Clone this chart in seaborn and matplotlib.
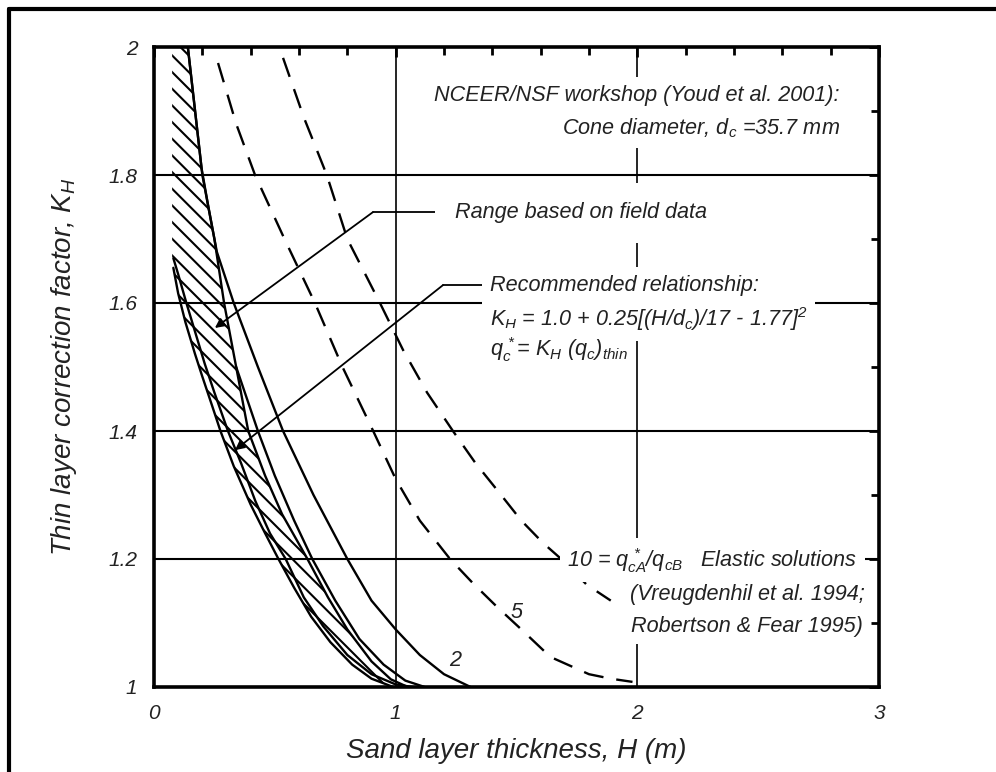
import numpy as np
import pandas as pd
import matplotlib
matplotlib.use("Agg")
import matplotlib.pyplot as plt
import seaborn as sns
from matplotlib.ticker import FixedLocator, MultipleLocator, FixedFormatter
from matplotlib.lines import Line2D

# ---------------- data ----------------
# hatched "range based on field data": left edge (open, no line above 1.66)
hatch_open_H = [0.075, 0.075]
hatch_open_K = [2.00, 1.66]
# left solid edge of the field-data band
band_left_H = [0.08, 0.10, 0.13, 0.17, 0.20, 0.24, 0.275, 0.33, 0.40, 0.46, 0.515, 0.58, 0.65, 0.73, 0.82, 0.90, 0.99]
band_left_K = [1.655, 1.615, 1.57, 1.52, 1.485, 1.44, 1.40, 1.345, 1.285, 1.24, 1.20, 1.155, 1.11, 1.07, 1.035, 1.013, 1.0]
# right solid edge of the field-data band
band_right_H = [0.14, 0.17, 0.197, 0.225, 0.25, 0.29, 0.34, 0.39, 0.46, 0.53, 0.635, 0.72, 0.80, 0.90, 0.98, 1.05]
band_right_K = [2.00, 1.90, 1.81, 1.75, 1.70, 1.60, 1.50, 1.40, 1.33, 1.27, 1.20, 1.14, 1.09, 1.04, 1.012, 1.0]
# second right edge
band_right2_H = [0.34, 0.43, 0.50, 0.58, 0.655, 0.75, 0.85, 0.95, 1.04, 1.12]
band_right2_K = [1.50, 1.40, 1.33, 1.26, 1.20, 1.135, 1.075, 1.035, 1.01, 1.0]
# recommended relationship
rec_H = [0.08, 0.10, 0.134, 0.17, 0.21, 0.25, 0.306, 0.36, 0.42, 0.48, 0.545, 0.62, 0.70, 0.80, 0.90, 1.00, 1.07]
rec_K = [1.67, 1.645, 1.60, 1.555, 1.505, 1.46, 1.40, 1.35, 1.29, 1.24, 1.20, 1.14, 1.095, 1.05, 1.02, 1.004, 1.0]
# elastic solutions q_cA*/q_cB = 2, 5, 10
el2_H = [0.14, 0.17, 0.20, 0.26, 0.33, 0.43, 0.534, 0.66, 0.80, 0.90, 1.00, 1.10, 1.20, 1.31]
el2_K = [2.00, 1.90, 1.80, 1.68, 1.60, 1.50, 1.40, 1.30, 1.20, 1.135, 1.09, 1.05, 1.02, 1.0]
el5_H = [0.265, 0.34, 0.418, 0.54, 0.666, 0.78, 0.907, 1.00, 1.10, 1.225, 1.32, 1.42, 1.52, 1.64, 1.80, 1.89, 1.98]
el5_K = [1.975, 1.88, 1.80, 1.70, 1.60, 1.50, 1.40, 1.325, 1.26, 1.20, 1.162, 1.125, 1.09, 1.047, 1.02, 1.013, 1.008]
el10_H = [0.534, 0.62, 0.715, 0.80, 0.935, 1.03, 1.13, 1.237, 1.33, 1.43, 1.52, 1.61, 1.70, 1.79, 1.89]
el10_K = [1.983, 1.89, 1.80, 1.70, 1.60, 1.527, 1.46, 1.40, 1.35, 1.303, 1.26, 1.225, 1.195, 1.16, 1.135]

x_major = [0, 1, 2, 3]
x_labels = ["0", "1", "2", "3"]
y_major = [1.0, 1.2, 1.4, 1.6, 1.8, 2.0]
y_labels = ["1", "1.2", "1.4", "1.6", "1.8", "2"]
grid_K = [1.2, 1.4, 1.6, 1.8]
grid_H = [1, 2]

# ---------------- style ----------------
sns.set_theme(style="white")
plt.rcParams["font.family"] = ["Liberation Sans", "DejaVu Sans"]
plt.rcParams["font.style"] = "italic"
plt.rcParams["mathtext.fontset"] = "custom"
plt.rcParams["mathtext.rm"] = "Liberation Sans:italic"
plt.rcParams["mathtext.it"] = "Liberation Sans:italic"
plt.rcParams["mathtext.bf"] = "Liberation Sans:italic:bold"
plt.rcParams["mathtext.default"] = "it"
plt.rcParams["hatch.linewidth"] = 1.5
plt.rcParams["hatch.color"] = "black"

fig = plt.figure(figsize=(9.96, 7.72), dpi=100)
fig.patch.set_facecolor("white")
ax = fig.add_axes([154 / 996, 1 - 687 / 772, (879 - 154) / 996, (687 - 47) / 772])
ax.set_facecolor("white")

# grid lines
for k in grid_K:
    ax.axhline(k, color="black", lw=1.5, zorder=1)
for h in grid_H:
    ax.axvline(h, color="black", lw=1.2, zorder=1)

# hatched band
poly_H = hatch_open_H + band_left_H + band_right_H[::-1]
poly_K = hatch_open_K + band_left_K + band_right_K[::-1]
ax.fill(poly_H, poly_K, facecolor="none", edgecolor="black", linewidth=0,
        hatch="\\\\", zorder=2)

solid_kw = dict(color="black", lw=1.7, sort=False, estimator=None, zorder=3)
sns.lineplot(x=band_left_H, y=band_left_K, ax=ax, **solid_kw)
sns.lineplot(x=band_right_H, y=band_right_K, ax=ax, **solid_kw)
sns.lineplot(x=band_right2_H, y=band_right2_K, ax=ax, **solid_kw)
sns.lineplot(x=rec_H, y=rec_K, ax=ax, **solid_kw)
sns.lineplot(x=el2_H, y=el2_K, ax=ax, **solid_kw)
dash_kw = dict(color="black", lw=1.7, sort=False, estimator=None, zorder=3,
               linestyle=(0, (8.5, 5.5)))
sns.lineplot(x=el5_H, y=el5_K, ax=ax, **dash_kw)
sns.lineplot(x=el10_H, y=el10_K, ax=ax, **dash_kw)

ax.set_xlim(0, 3)
ax.set_ylim(1, 2)

# ticks
ax.xaxis.set_major_locator(FixedLocator(x_major))
ax.xaxis.set_major_formatter(FixedFormatter(x_labels))
ax.xaxis.set_minor_locator(MultipleLocator(0.2))
ax.yaxis.set_major_locator(FixedLocator(y_major))
ax.yaxis.set_major_formatter(FixedFormatter(y_labels))
ax.yaxis.set_minor_locator(MultipleLocator(0.1))
ax.tick_params(which="both", direction="in", top=True, right=True,
               width=2, color="black", labelsize=15, labelcolor="#222222")
ax.tick_params(which="major", length=7)
ax.tick_params(which="minor", length=6)
ax.tick_params(axis="x", pad=12)
ax.tick_params(axis="y", pad=12)
for s in ax.spines.values():
    s.set_linewidth(2.6)
    s.set_color("black")
    s.set_visible(True)

ax.set_xlabel("Sand layer thickness, H (m)", fontsize=20, color="#222222")
ax.set_ylabel("Thin layer correction factor, $K_H$", fontsize=20, color="#222222")
ax.xaxis.set_label_coords(0.5, -0.079)
ax.yaxis.set_label_coords(-0.103, 0.5)

box = dict(boxstyle="square,pad=0.35", fc="white", ec="none")
tk = dict(fontsize=15.6, color="#222222", zorder=5)

ax.text(2.838, 1.925, "NCEER/NSF workshop (Youd et al. 2001):", ha="right", va="center", bbox=box, **tk)
ax.text(2.838, 1.873, "Cone diameter, d$_c$ =35.7 mm", ha="right", va="center", bbox=box, **tk)

ax.text(1.245, 1.741, "Range based on field data", ha="left", va="center",
        bbox=dict(boxstyle="square,pad=0.9", fc="white", ec="none"), **tk)

ax.text(1.39, 1.628, "Recommended relationship:", ha="left", va="center", bbox=box, **tk)
ax.text(1.39, 1.575, r"$K_H$ = 1.0 + 0.25[(H/d$_c$)/17 - 1.77]$^2$", ha="left", va="center", bbox=box, **tk)
ax.text(1.39, 1.527, r"$q_c^{\,*}$= $K_H$ ($q_c$)$_{thin}$", ha="left", va="center", bbox=box, **tk)

ax.text(1.71, 1.198, r"10 = $q_{cA}^{\,*}/q_{cB}$   Elastic solutions", ha="left", va="center", bbox=box, **tk)
ax.text(2.942, 1.144, "(Vreugdenhil et al. 1994;", ha="right", va="center", bbox=box, **tk)
ax.text(2.933, 1.095, "Robertson & Fear 1995)", ha="right", va="center", bbox=box, **tk)

ax.text(1.245, 1.042, "2", ha="center", va="center", **tk)
ax.text(1.50, 1.117, "5", ha="center", va="center", **tk)

# leaders with arrows
ax.plot([1.183, 0.906], [1.742, 1.742], color="black", lw=1.3, zorder=4)
ax.annotate("", xy=(0.252, 1.561), xytext=(0.906, 1.742),
            arrowprops=dict(arrowstyle="-|>", lw=1.3, color="black",
                            mutation_scale=14, shrinkA=0, shrinkB=0), zorder=4)
ax.plot([1.357, 1.196], [1.628, 1.628], color="black", lw=1.3, zorder=4)
ax.annotate("", xy=(0.335, 1.37), xytext=(1.196, 1.628),
            arrowprops=dict(arrowstyle="-|>", lw=1.3, color="black",
                            mutation_scale=14, shrinkA=0, shrinkB=0), zorder=4)

# outer frame of the scanned figure (left and top edges)
fig.add_artist(Line2D([9 / 996, 9 / 996], [0, 1 - 9 / 772], transform=fig.transFigure,
                      color="black", lw=3))
fig.add_artist(Line2D([9 / 996, 1], [1 - 9 / 772, 1 - 9 / 772], transform=fig.transFigure,
                      color="black", lw=3))

fig.savefig("out.png", dpi=100, facecolor="white")
